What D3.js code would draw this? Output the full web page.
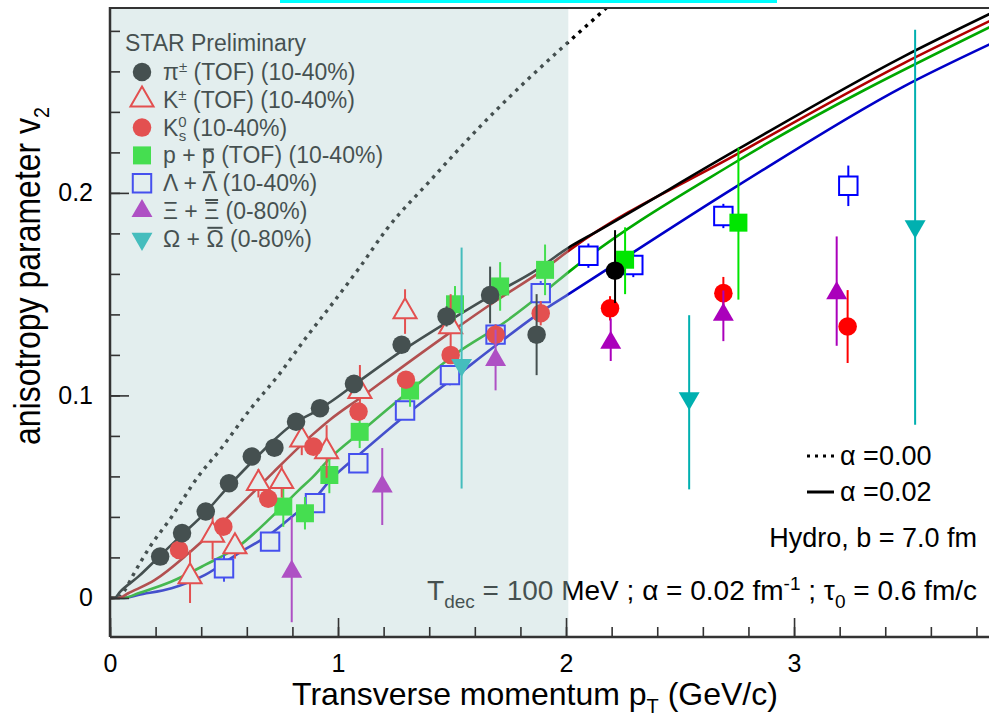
<!DOCTYPE html>
<html lang="en">
  <head>
    <meta charset="UTF-8" />
    <script src="https://cdn.jsdelivr.net/npm/d3@7"></script>
    <style>
      body { margin: 0; background: #fff; }
      text { font-family: "Liberation Sans", Arial, sans-serif; }
    </style>
  </head>
  <body>
    <div id="fig"></div>
    <script>
      const width = 989, height = 726;

      // measured points: [pT, v2, err down, err up]
      const pionTOF = [
        [0.22, 0.0204, 0.003, 0.003], [0.316, 0.032, 0.003, 0.003], [0.42, 0.0427, 0.003, 0.003],
        [0.522, 0.0566, 0.003, 0.003], [0.622, 0.0698, 0.003, 0.003], [0.721, 0.0742, 0.003, 0.003],
        [0.816, 0.087, 0.003, 0.003], [0.921, 0.0937, 0.003, 0.003], [1.07, 0.1057, 0.003, 0.003],
        [1.279, 0.125, 0.004, 0.004], [1.476, 0.139, 0.005, 0.005], [1.667, 0.1496, 0.014, 0.014],
        [1.871, 0.13, 0.02, 0.02], [2.215, 0.1616, 0.016, 0.02]
      ];
      const kaonTOF = [
        [0.351, 0.0105, 0.013, 0.013], [0.45, 0.031, 0.012, 0.012], [0.548, 0.0254, 0.006, 0.006],
        [0.651, 0.0566, 0.007, 0.007], [0.753, 0.0575, 0.008, 0.008], [0.841, 0.078, 0.0075, 0.0075],
        [0.95, 0.0723, 0.013, 0.013], [1.096, 0.102, 0.013, 0.013], [1.294, 0.1414, 0.011, 0.011],
        [1.494, 0.134, 0.016, 0.016]
      ];
      const kaonShort = [
        [0.303, 0.0237, 0.003, 0.003], [0.497, 0.0352, 0.003, 0.003], [0.694, 0.049, 0.003, 0.003],
        [0.892, 0.0747, 0.003, 0.003], [1.09, 0.092, 0.003, 0.003], [1.298, 0.1077, 0.003, 0.003],
        [1.494, 0.12, 0.004, 0.004], [1.691, 0.13, 0.005, 0.005], [1.889, 0.1406, 0.006, 0.006],
        [2.193, 0.143, 0.006, 0.006], [2.69, 0.1505, 0.008, 0.008], [3.235, 0.134, 0.018, 0.018]
      ];
      const protonTOF = [
        [0.76, 0.0451, 0.01, 0.01], [0.855, 0.0418, 0.008, 0.008], [0.962, 0.0607, 0.009, 0.009],
        [1.095, 0.082, 0.008, 0.008], [1.316, 0.1024, 0.008, 0.008], [1.513, 0.145, 0.009, 0.009],
        [1.711, 0.1538, 0.012, 0.012], [1.908, 0.162, 0.0125, 0.0125], [2.259, 0.167, 0.017, 0.016],
        [2.756, 0.1853, 0.038, 0.037]
      ];
      const lambda = [
        [0.5, 0.0146, 0.0066, 0.0066], [0.702, 0.0278, 0.004, 0.004], [0.899, 0.0468, 0.004, 0.004],
        [1.089, 0.0665, 0.004, 0.004], [1.294, 0.0925, 0.004, 0.004], [1.491, 0.11, 0.005, 0.005],
        [1.691, 0.13, 0.005, 0.005], [1.889, 0.1505, 0.006, 0.006], [2.098, 0.169, 0.006, 0.006],
        [2.295, 0.1644, 0.006, 0.006], [2.69, 0.1886, 0.006, 0.006], [3.238, 0.2035, 0.01, 0.01]
      ];
      const xi = [
        [0.797, 0.013, 0.025, 0.027], [1.194, 0.055, 0.019, 0.019], [1.691, 0.1175, 0.015, 0.015],
        [2.196, 0.126, 0.009, 0.012], [2.69, 0.1398, 0.013, 0.012], [3.187, 0.1505, 0.026, 0.028]
      ];
      const omega = [
        [1.542, 0.115, 0.061, 0.058], [2.54, 0.0986, 0.045, 0.041], [3.531, 0.1835, 0.098, 0.097]
      ];

      // hydro curves [pT, v2]
      const hydroPionIdeal = [
        [0, 0], [0.03, 0], [0.066, 0.004], [0.1, 0.011], [0.168, 0.024], [0.27, 0.04], [0.387, 0.06],
        [0.482, 0.073], [0.614, 0.093], [0.746, 0.111], [0.863, 0.129], [0.98, 0.146], [1.1, 0.164],
        [1.213, 0.182], [1.404, 0.206], [1.608, 0.231], [1.813, 0.254], [1.996, 0.273], [2.164, 0.29],
        [2.3, 0.304]
      ];
      const hydroPion = [
        [0, 0], [0.02, 0], [0.044, 0.003], [0.124, 0.0105], [0.212, 0.02], [0.314, 0.031], [0.417, 0.042],
        [0.519, 0.055], [0.621, 0.067], [0.72, 0.078], [0.804, 0.086], [0.9, 0.092], [0.97, 0.097],
        [1.08, 0.106], [1.28, 0.122], [1.476, 0.136], [1.667, 0.149], [1.871, 0.162], [2.018, 0.1735],
        [2.105, 0.179], [2.748, 0.2212], [3.48, 0.2673], [3.87, 0.289]
      ];
      const hydroKaon = [
        [0, 0], [0.04, 0], [0.08, 0.0023], [0.197, 0.0089], [0.344, 0.022], [0.49, 0.037], [0.636, 0.053],
        [0.716, 0.062], [0.892, 0.081], [0.965, 0.088], [1.1, 0.099], [1.257, 0.112], [1.491, 0.131],
        [1.696, 0.147], [1.9, 0.162], [2.018, 0.172], [2.748, 0.219], [3.48, 0.264], [3.87, 0.2855]
      ];
      const hydroProton = [
        [0, 0], [0.06, 0], [0.124, 0.0023], [0.27, 0.0081], [0.417, 0.0163], [0.563, 0.0254],
        [0.709, 0.04], [0.826, 0.053], [0.892, 0.06], [0.965, 0.069], [1.1, 0.082], [1.316, 0.1024],
        [1.52, 0.1208], [1.725, 0.1356], [1.915, 0.152], [2.018, 0.1615], [2.748, 0.2155], [3.87, 0.2825]
      ];
      const hydroLambda = [
        [0, 0], [0.06, 0], [0.124, 0.0015], [0.27, 0.0048], [0.417, 0.0114], [0.563, 0.022],
        [0.709, 0.032], [0.826, 0.0427], [0.892, 0.0484], [0.965, 0.058], [1.1, 0.0715], [1.294, 0.09],
        [1.535, 0.111], [1.696, 0.125], [1.9, 0.142], [2.018, 0.1505], [2.748, 0.2032], [3.48, 0.2525],
        [3.87, 0.274]
      ];

      const xTicks = [0, 1, 2, 3];
      const yTicks = [0, 0.1, 0.2];
      const shadeEnd = 2.01;

      const x = d3.scaleLinear().domain([0, 3.855]).range([110, 989]);
      const y = d3.scaleLinear().domain([-0.0193, 0.2913]).range([637, 8]);

      const svg = d3.select("#fig").append("svg")
        .attr("width", width).attr("height", height);

      svg.append("defs").append("clipPath").attr("id", "plotclip")
        .append("rect").attr("x", 110).attr("y", 8).attr("width", 879).attr("height", 629);

      // cyan strip at the very top
      svg.append("rect").attr("x", 280).attr("y", 0).attr("width", 497).attr("height", 3).attr("fill", "#00ffff");

      const plot = svg.append("g").attr("clip-path", "url(#plotclip)");

      const line = d3.line().x(d => x(d[0])).y(d => y(d[1])).curve(d3.curveMonotoneX);

      plot.append("path").datum(hydroPionIdeal).attr("d", line)
        .attr("fill", "none").attr("stroke", "#000").attr("stroke-width", 3.4)
        .attr("stroke-dasharray", "3.4,5.2");
      [[hydroLambda, "#0000c8"], [hydroProton, "#00a800"], [hydroKaon, "#b00000"], [hydroPion, "#000"]]
        .forEach(([c, col]) => {
          plot.append("path").datum(c).attr("d", line)
            .attr("fill", "none").attr("stroke", col).attr("stroke-width", 2.6);
        });

      const sym = {
        circle: d3.symbol().type(d3.symbolCircle).size(270)(),
        square: d3.symbol().type(d3.symbolSquare).size(324)(),
        openSquare: d3.symbol().type(d3.symbolSquare).size(340)(),
        triangle: d3.symbol().type(d3.symbolTriangle).size(190)(),
        openTriangle: d3.symbol().type(d3.symbolTriangle).size(230)()
      };

      function drawSeries(data, color, shape, open, flip) {
        const g = plot.append("g");
        g.selectAll("line").data(data).join("line")
          .attr("x1", d => x(d[0])).attr("x2", d => x(d[0]))
          .attr("y1", d => y(d[1] - d[2])).attr("y2", d => y(d[1] + d[3]))
          .attr("stroke", color).attr("stroke-width", 2);
        g.selectAll("path").data(data).join("path")
          .attr("d", sym[shape])
          .attr("transform", d => `translate(${x(d[0])},${y(d[1])})` + (flip ? " rotate(180)" : ""))
          .attr("fill", open ? "#fff" : color)
          .attr("stroke", open ? color : "none")
          .attr("stroke-width", 2);
      }

      drawSeries(lambda, "#0000ff", "openSquare", true);
      drawSeries(protonTOF, "#00e600", "square", false);
      drawSeries(kaonTOF, "#ff0000", "openTriangle", true);
      drawSeries(kaonShort, "#ff0000", "circle", false);
      drawSeries(pionTOF, "#000", "circle", false);
      drawSeries(xi, "#aa00bb", "triangle", false);
      drawSeries(omega, "#00b0b0", "triangle", false, true);

      // legend
      const rowY = i => 72 + i * 27.8;
      const leg = svg.append("g").style("font-size", "23px").attr("fill", "#000");
      leg.append("text").attr("x", 125).attr("y", 43).attr("dy", "0.35em").text("STAR Preliminary");
      const legendRows = [
        { color: "#000", shape: "circle", open: false },
        { color: "#ff0000", shape: "openTriangle", open: true },
        { color: "#ff0000", shape: "circle", open: false },
        { color: "#00e600", shape: "square", open: false },
        { color: "#0000ff", shape: "openSquare", open: true },
        { color: "#aa00bb", shape: "triangle", open: false },
        { color: "#00b0b0", shape: "triangle", open: false, flip: true }
      ];
      legendRows.forEach((r, i) => {
        leg.append("path").attr("d", sym[r.shape])
          .attr("transform", `translate(142,${rowY(i)})` + (r.flip ? " rotate(180)" : ""))
          .attr("fill", r.open ? "#fff" : r.color)
          .attr("stroke", r.open ? r.color : "none").attr("stroke-width", 2);
      });
      const lt = i => leg.append("text").attr("x", 163).attr("y", rowY(i)).attr("dy", "0.35em");
      let t = lt(0);
      t.append("tspan").text("π");
      t.append("tspan").attr("dy", -8).style("font-size", "15px").text("±");
      t.append("tspan").attr("dy", 8).text(" (TOF) (10-40%)");
      t = lt(1);
      t.append("tspan").text("K");
      t.append("tspan").attr("dy", -8).style("font-size", "15px").text("±");
      t.append("tspan").attr("dy", 8).text(" (TOF) (10-40%)");
      t = lt(2);
      t.append("tspan").text("K");
      t.append("tspan").attr("dy", -9).style("font-size", "15px").text("0");
      t.append("tspan").attr("dx", -8).attr("dy", 14).style("font-size", "15px").text("s");
      t.append("tspan").attr("dy", -5).text(" (10-40%)");
      // antiparticle bar drawn over the second symbol
      const barred = (i, a, b, rest, lowCase) => {
        const tt = lt(i);
        tt.text(a + " + " + b + rest);
        const idx = a.length + 3;
        const ext = tt.node().getExtentOfChar(idx);
        const base = rowY(i) + 8;
        const by = base - (lowCase ? 14 : 19);
        leg.append("line").attr("x1", ext.x + 1).attr("x2", ext.x + ext.width - 1)
          .attr("y1", by).attr("y2", by).attr("stroke", "#000").attr("stroke-width", 2);
      };
      barred(3, "p", "p", " (TOF) (10-40%)", true);
      barred(4, "Λ", "Λ", " (10-40%)");
      barred(5, "Ξ", "Ξ", " (0-80%)");
      barred(6, "Ω", "Ω", " (0-80%)");

      // hydro annotations
      const ann = svg.append("g").style("font-size", "27px").attr("fill", "#000");
      ann.append("line").attr("x1", 807).attr("x2", 834).attr("y1", 456).attr("y2", 456)
        .attr("stroke", "#000").attr("stroke-width", 3).attr("stroke-dasharray", "3,5");
      ann.append("text").attr("x", 840).attr("y", 456).attr("dy", "0.35em").text("α =0.00");
      ann.append("line").attr("x1", 807).attr("x2", 834).attr("y1", 492).attr("y2", 492)
        .attr("stroke", "#000").attr("stroke-width", 3);
      ann.append("text").attr("x", 840).attr("y", 492).attr("dy", "0.35em").text("α =0.02");
      ann.append("text").attr("x", 977).attr("y", 538).attr("dy", "0.35em")
        .attr("text-anchor", "end").text("Hydro, b = 7.0 fm");
      const td = ann.append("text").attr("x", 977).attr("y", 590).attr("dy", "0.35em")
        .attr("text-anchor", "end").style("font-size", "28px");
      td.append("tspan").text("T");
      td.append("tspan").attr("dy", 8).style("font-size", "19px").text("dec");
      td.append("tspan").attr("dy", -8).text(" = 100 MeV ; α = 0.02 fm");
      td.append("tspan").attr("dy", -10).style("font-size", "19px").text("-1");
      td.append("tspan").attr("dy", 10).text(" ; τ");
      td.append("tspan").attr("dy", 8).style("font-size", "19px").text("0");
      td.append("tspan").attr("dy", -8).text(" = 0.6 fm/c");

      // shaded pT < 2 region drawn over everything underneath
      svg.append("rect")
        .attr("x", x(0)).attr("y", 8)
        .attr("width", x(shadeEnd) - x(0)).attr("height", 629)
        .attr("fill", "rgb(182,211,211)").attr("fill-opacity", 0.38);

      // axes
      const axisCol = "#333";
      const xAxisG = svg.append("g").attr("transform", "translate(0,637)");
      xAxisG.call(d3.axisBottom(x).tickValues(d3.range(0, 3.9, 0.2)).tickSize(-10).tickFormat(""));
      xAxisG.append("g").call(d3.axisBottom(x).tickValues(xTicks).tickSize(-19).tickPadding(17).tickFormat(d3.format("d")));
      const yAxisG = svg.append("g").attr("transform", "translate(110,0)");
      yAxisG.call(d3.axisLeft(y).tickValues(d3.range(0, 0.29, 0.02)).tickSize(-10).tickFormat(""));
      yAxisG.append("g").call(d3.axisLeft(y).tickValues(yTicks).tickSize(-19).tickPadding(17).tickFormat(d => d === 0 ? "0" : d3.format(".1f")(d)));
      svg.selectAll(".domain").remove();
      svg.selectAll(".tick line").attr("stroke", axisCol).attr("stroke-width", 1.6);
      svg.selectAll(".tick text").attr("fill", "#000").style("font-size", "25px")
        .style("font-family", "'Liberation Sans', Arial, sans-serif");

      svg.append("line").attr("x1", 110).attr("x2", 989).attr("y1", 637).attr("y2", 637).attr("stroke", axisCol).attr("stroke-width", 2.5);
      svg.append("line").attr("x1", 110).attr("x2", 110).attr("y1", 7).attr("y2", 637).attr("stroke", axisCol).attr("stroke-width", 2.5);
      svg.append("line").attr("x1", 110).attr("x2", 989).attr("y1", 8).attr("y2", 8).attr("stroke", axisCol).attr("stroke-width", 2);

      // axis titles
      const xt = svg.append("text").attr("x", 535).attr("y", 705).attr("text-anchor", "middle").style("font-size", "32px");
      xt.append("tspan").text("Transverse momentum p");
      xt.append("tspan").attr("dy", 8).style("font-size", "20px").text("T");
      xt.append("tspan").attr("dy", -8).text(" (GeV/c)");

      const yt = svg.append("text").attr("transform", "translate(40,276) rotate(-90)")
        .attr("text-anchor", "middle").style("font-size", "36px")
        .attr("textLength", 338).attr("lengthAdjust", "spacingAndGlyphs");
      yt.append("tspan").text("anisotropy parameter v");
      yt.append("tspan").attr("dy", 9).style("font-size", "22px").text("2");
    </script>
  </body>
</html>
